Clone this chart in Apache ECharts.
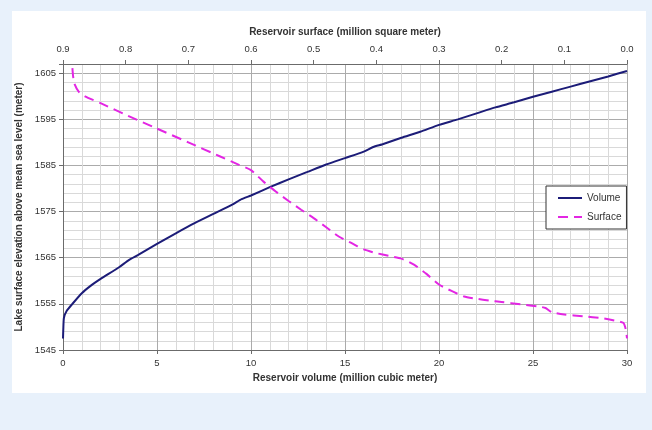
<!DOCTYPE html>
<html>
<head>
<meta charset="utf-8">
<script src="https://cdn.jsdelivr.net/npm/echarts@6/dist/echarts.min.js"></script>
<style>
html,body{margin:0;padding:0;background:#e8f1fb;}
#wrap{position:absolute;left:0;top:0;width:652px;height:430px;background:#e8f1fb;}
#chart{position:absolute;left:12px;top:11px;width:634px;height:382px;background:#ffffff;}
</style>
</head>
<body>
<div id="wrap"><div id="chart"></div></div>
<script>
// Volume series: [reservoir volume (million m3), elevation (m)]
const volumeX = [0, 0.02, 0.05, 0.2, 0.5, 1.0, 1.5, 2.0, 3.0, 3.5, 4.0, 5.0, 6.0, 7.0, 8.0, 9.0, 9.5, 10, 11, 12, 13, 14, 15, 16, 16.5, 17, 18, 19, 20, 21, 22, 23, 24, 25, 26, 27, 28, 29, 30];
const volumeY = [1547.5, 1550, 1552, 1553.5, 1555, 1557.3, 1559, 1560.4, 1563, 1564.5, 1565.6, 1568, 1570.3, 1572.5, 1574.5, 1576.5, 1577.7, 1578.5, 1580.3, 1582, 1583.6, 1585.2, 1586.6, 1588, 1589, 1589.6, 1591, 1592.3, 1593.8, 1595, 1596.3, 1597.6, 1598.7, 1599.9, 1601, 1602.1, 1603.2, 1604.3, 1605.5];
// Surface series: [reservoir surface (million m2), elevation (m)]
const surfaceX = [0.885, 0.884, 0.882, 0.875, 0.865, 0.84, 0.80, 0.75, 0.70, 0.65, 0.62, 0.60, 0.58, 0.56, 0.54, 0.52, 0.50, 0.48, 0.46, 0.44, 0.42, 0.40, 0.38, 0.36, 0.34, 0.32, 0.30, 0.28, 0.26, 0.24, 0.22, 0.20, 0.17, 0.14, 0.13, 0.12, 0.10, 0.07, 0.04, 0.02, 0.006, 0.002, 0.0];
const surfaceY = [1606.1, 1604.5, 1602.8, 1601, 1600, 1598.5, 1596, 1593, 1590, 1587, 1585.2, 1584, 1581.5, 1579.3, 1577.3, 1575.4, 1573.6, 1571.6, 1569.6, 1568.2, 1566.8, 1566, 1565.4, 1564.8, 1563.5, 1561.5, 1559.2, 1557.8, 1556.6, 1556.1, 1555.7, 1555.4, 1554.9, 1554.4, 1554.1, 1553.2, 1552.7, 1552.3, 1551.9, 1551.4, 1550.9, 1549.5, 1547.5];
// Axis ticks
const volumeMin = 0, volumeMax = 30, volumeStep = 5;
const surfaceMin = 0, surfaceMax = 0.9, surfaceStep = 0.1;
const elevMin = 1545, elevMax = 1607, elevStep = 10, elevMinorStep = 2;

const FONT = 'Liberation Sans, Arial, sans-serif';
const MAJOR = '#ababab', MINOR = '#d9d9d9', AXIS = '#6b6b6b', TXT = '#333333';
const VOL_COLOR = '#1c1c78', SURF_COLOR = '#e326e3';

const volumeData = volumeX.map((v, i) => [v, volumeY[i]]);
const surfaceData = surfaceX.map((v, i) => [v, surfaceY[i]]);

const chart = echarts.init(document.getElementById('chart'), null, {renderer: 'canvas'});
chart.setOption({
  animation: false,
  backgroundColor: '#ffffff',
  grid: {left: 51, right: 19, top: 53, bottom: 43, containLabel: false, outerBoundsMode: 'none'},
  legend: {
    orient: 'vertical', left: 534, top: 175,
    padding: [7, 5, 7, 11], itemGap: 9, itemWidth: 24, itemHeight: 10,
    borderColor: '#333', borderWidth: 1, backgroundColor: '#fff',
    textStyle: {fontFamily: FONT, fontSize: 10, color: TXT},
    data: ['Volume', 'Surface']
  },
  xAxis: [
    {
      type: 'value', position: 'bottom', min: volumeMin, max: volumeMax, interval: volumeStep,
      name: 'Reservoir volume (million cubic meter)', nameLocation: 'middle', nameGap: 20,
      nameTextStyle: {fontFamily: FONT, fontSize: 10, fontWeight: 'bold', color: TXT},
      axisLine: {show: true, onZero: false, lineStyle: {color: AXIS, width: 1}},
      axisTick: {show: true, length: 4, lineStyle: {color: AXIS}},
      axisLabel: {fontFamily: FONT, fontSize: 9.5, color: TXT, margin: 8},
      splitLine: {show: true, lineStyle: {color: MAJOR, width: 1}},
      minorTick: {show: false, splitNumber: 5},
      minorSplitLine: {show: true, lineStyle: {color: MINOR, width: 1}}
    },
    {
      type: 'value', position: 'top', min: surfaceMin, max: surfaceMax, interval: surfaceStep, inverse: true,
      name: 'Reservoir surface (million square meter)', nameLocation: 'middle', nameGap: 27,
      nameTextStyle: {fontFamily: FONT, fontSize: 10, fontWeight: 'bold', color: TXT},
      axisLine: {show: true, onZero: false, lineStyle: {color: AXIS, width: 1}},
      axisTick: {show: true, length: 4, lineStyle: {color: AXIS}},
      axisLabel: {fontFamily: FONT, fontSize: 9.5, color: TXT, margin: 10, formatter: v => v.toFixed(1)},
      splitLine: {show: false}
    }
  ],
  yAxis: [
    {
      type: 'value', position: 'left', min: elevMin, max: elevMax, interval: elevStep,
      name: 'Lake surface elevation above mean sea level (meter)', nameLocation: 'middle', nameGap: 27,
      nameTextStyle: {fontFamily: FONT, fontSize: 10, fontWeight: 'bold', color: TXT},
      axisLine: {show: true, onZero: false, lineStyle: {color: AXIS, width: 1}},
      axisTick: {show: true, length: 4, lineStyle: {color: AXIS}},
      axisLabel: {fontFamily: FONT, fontSize: 9.5, color: TXT, margin: 7,
        formatter: v => ((Math.round(v) - elevMin) % elevStep === 0 ? String(Math.round(v)) : '')},
      splitLine: {show: false}
    },
    {
      type: 'value', position: 'right', min: elevMin, max: elevMax, interval: elevMinorStep,
      axisLine: {show: false}, axisTick: {show: false}, axisLabel: {show: false},
      splitLine: {show: true, lineStyle: {color: [MAJOR, MINOR, MINOR, MINOR, MINOR], width: 1}}
    }
  ],
  series: [
    {
      name: 'Volume', type: 'line', xAxisIndex: 0, yAxisIndex: 0, data: volumeData,
      symbol: 'none', showSymbol: false, smooth: 0.2, z: 5,
      lineStyle: {color: VOL_COLOR, width: 2}, itemStyle: {color: 'rgba(0,0,0,0)', borderWidth: 0}
    },
    {
      name: 'Surface', type: 'line', xAxisIndex: 1, yAxisIndex: 0, data: surfaceData,
      symbol: 'none', showSymbol: false, smooth: 0.2, z: 5,
      lineStyle: {color: SURF_COLOR, width: 2, type: [10, 6]}, itemStyle: {color: 'rgba(0,0,0,0)', borderWidth: 0}
    }
  ]
});
</script>
</body>
</html>
